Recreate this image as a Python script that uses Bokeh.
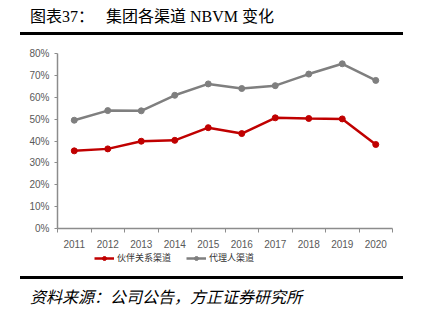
from bokeh.plotting import figure
from bokeh.models import (ColumnDataSource, FixedTicker, PrintfTickFormatter, Range1d,
                          Legend, LegendItem, Div)
from bokeh.layouts import column
from bokeh.embed import file_html
from bokeh.resources import INLINE

years = [2011, 2012, 2013, 2014, 2015, 2016, 2017, 2018, 2019, 2020]
year_labels = [str(y) for y in years]
partner = [35.5, 36.4, 39.9, 40.3, 46.1, 43.4, 50.6, 50.3, 50.1, 38.4]
agent = [49.5, 53.9, 53.8, 60.9, 66.1, 64.0, 65.3, 70.6, 75.3, 67.7]
y_ticks = [0, 10, 20, 30, 40, 50, 60, 70, 80]

title_text = "图表37：&nbsp;&nbsp;&nbsp;集团各渠道 NBVM 变化"
source_text = "资料来源：公司公告，方正证券研究所"
series_names = ["伙伴关系渠道", "代理人渠道"]

RED = "#C00000"
GRAY = "#7F7F7F"
AXIS = "#8C8C8C"
TICKTXT = "#595959"

src = ColumnDataSource(dict(x=years, partner=partner, agent=agent))

p = figure(width=424, height=214, output_backend="svg", toolbar_location=None,
           x_range=Range1d(years[0] - 0.5, years[-1] + 0.5), y_range=Range1d(0, 80),
           min_border_left=57, min_border_right=32, min_border_top=17, min_border_bottom=22)
p.outline_line_color = None
p.xgrid.grid_line_color = None
p.ygrid.grid_line_color = None
p.background_fill_color = "white"
p.border_fill_color = "white"

p.line("x", "partner", source=src, line_color=RED, line_width=2.5)
p.scatter("x", "partner", source=src, size=6, fill_color=RED, line_color=RED)
p.line("x", "agent", source=src, line_color=GRAY, line_width=2.5)
p.scatter("x", "agent", source=src, size=6, fill_color=GRAY, line_color=GRAY)

# x axis
p.xaxis.ticker = FixedTicker(ticks=years, minor_ticks=[y + 0.5 for y in [years[0] - 1] + years])
p.xaxis.major_label_overrides = {y: s for y, s in zip(years, year_labels)}
p.xaxis.major_tick_line_color = None
p.xaxis.minor_tick_line_color = AXIS
p.xaxis.minor_tick_out = 4
p.xaxis.minor_tick_in = 0
p.xaxis.axis_line_color = AXIS
p.xaxis.axis_line_width = 1.5
p.xaxis.major_label_text_color = TICKTXT
p.xaxis.major_label_text_font = "Liberation Sans"
p.xaxis.major_label_text_font_size = "7.5pt"
p.xaxis.major_label_standoff = 5

# y axis
p.yaxis.ticker = FixedTicker(ticks=y_ticks)
p.yaxis.formatter = PrintfTickFormatter(format="%d%%")
p.yaxis.minor_tick_line_color = None
p.yaxis.major_tick_line_color = AXIS
p.yaxis.major_tick_out = 3
p.yaxis.major_tick_in = 0
p.yaxis.axis_line_color = AXIS
p.yaxis.axis_line_width = 1.5
p.yaxis.major_label_text_color = TICKTXT
p.yaxis.major_label_text_font = "Liberation Sans"
p.yaxis.major_label_text_font_size = "7.5pt"
p.yaxis.major_label_standoff = 5

# legend row: a frameless figure whose ranges keep the series out of view
pl = figure(width=424, height=20, output_backend="svg", toolbar_location=None,
            x_range=Range1d(0, 1), y_range=Range1d(0, 1),
            x_axis_location=None, y_axis_location=None,
            min_border_left=0, min_border_right=0, min_border_top=0, min_border_bottom=0)
pl.outline_line_color = None
pl.xgrid.grid_line_color = None
pl.ygrid.grid_line_color = None
l1 = pl.line("x", "partner", source=src, line_color=RED, line_width=2.5)
m1 = pl.scatter("x", "partner", source=src, size=7, fill_color=RED, line_color=RED)
l2 = pl.line("x", "agent", source=src, line_color=GRAY, line_width=2.5)
m2 = pl.scatter("x", "agent", source=src, size=7, fill_color=GRAY, line_color=GRAY)

legend = Legend(items=[LegendItem(label=series_names[0], renderers=[l1, m1]),
                       LegendItem(label=series_names[1], renderers=[l2, m2])],
                orientation="horizontal", location=(37, 6),
                label_text_font="Noto Sans CJK SC", label_text_font_size="9px",
                label_text_color="#333333", glyph_width=20, glyph_height=10,
                label_height=12, label_standoff=3, spacing=15, padding=3, margin=0,
                border_line_color=None, background_fill_alpha=0)
pl.add_layout(legend)

title_html = (
    '<div style="position:relative;width:424px;height:36px;">'
    '<span style="position:absolute;left:30px;top:9px;line-height:1;white-space:nowrap;'
    'font-family:\'Liberation Serif\',\'Noto Sans CJK SC\';font-size:16px;color:#000;">'
    + title_text +
    '</span>'
    '<div style="position:absolute;left:20px;top:32px;width:383px;height:3px;background:#000;"></div>'
    '</div>'
)
source_html = (
    '<div style="position:relative;width:424px;height:51px;">'
    '<div style="position:absolute;left:20px;top:6px;width:383px;height:3px;background:#000;"></div>'
    '<span style="position:absolute;left:30px;top:18px;line-height:1;white-space:nowrap;'
    'font-family:\'Noto Sans CJK SC\';font-style:italic;font-size:16px;color:#000;">'
    + source_text +
    '</span>'
    '</div>'
)
d1 = Div(text=title_html, width=424, height=36, margin=0)
d2 = Div(text=source_html, width=424, height=51, margin=0)

layout = column(d1, p, pl, d2, spacing=0, margin=0)

with open("out.html", "w") as f:
    f.write(file_html(layout, INLINE))
